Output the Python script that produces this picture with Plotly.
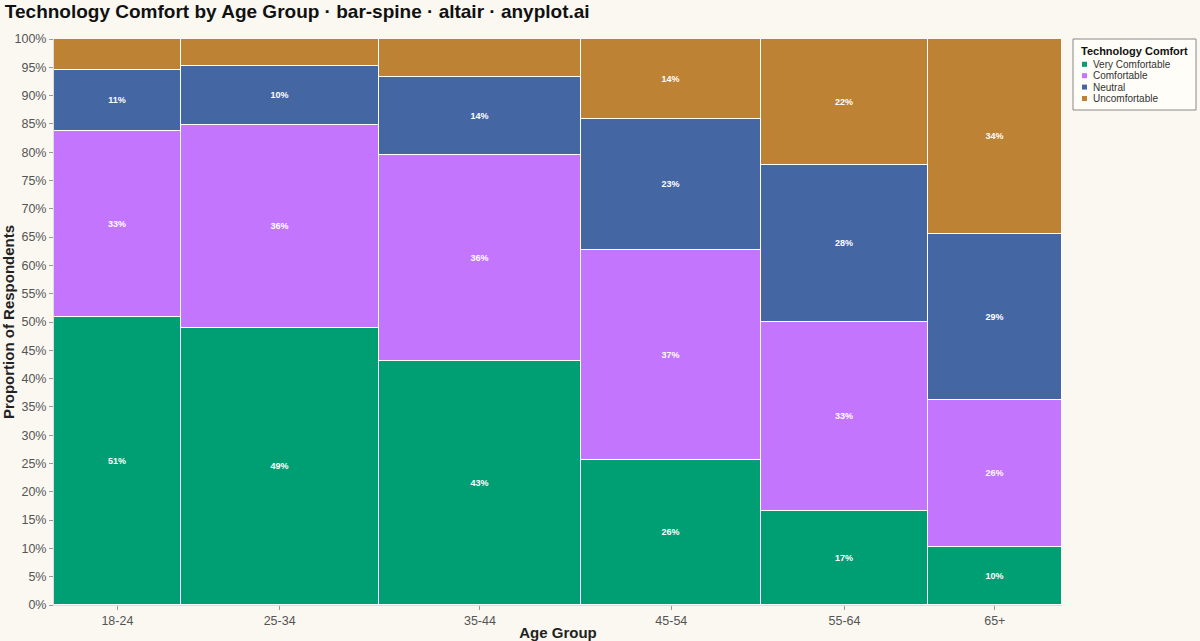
import plotly.graph_objects as go

# 各年龄段受访人数 (决定柱宽)
age_groups = ["18-24", "25-34", "35-44", "45-54", "55-64", "65+"]
respondents = [250, 390, 400, 355, 328, 265]

# 各舒适度占比 (%)
comfort_levels = ["Very Comfortable", "Comfortable", "Neutral", "Uncomfortable"]
very_comfortable = [50.9, 48.9, 43.1, 25.6, 16.6, 10.2]
comfortable = [32.9, 35.9, 36.4, 37.1, 33.4, 26.0]
neutral = [10.8, 10.4, 13.8, 23.2, 27.7, 29.4]
uncomfortable = [5.4, 4.8, 6.7, 14.1, 22.3, 34.4]

colors = ["#009E73", "#C475FD", "#4467A3", "#BD8233"]
bg = "#FAF8F1"

# 绘图区像素尺寸, 用于把图例放到右侧
PLOT_W, PLOT_H = 1008, 566


def px_x(px):
    return (px - 54) / PLOT_W


def px_y(py):
    return (605 - py) / PLOT_H


def add_legend(fig):
    # 手动绘制图例框 (plotly 自带图例太宽)
    fig.add_shape(type="rect", xref="paper", yref="paper",
                  x0=px_x(1073), x1=px_x(1196), y0=px_y(110), y1=px_y(39),
                  line=dict(color="#888", width=1), fillcolor="#FFFDF7")
    fig.add_annotation(text="<b>Technology Comfort</b>", xref="paper", yref="paper",
                       x=px_x(1080), y=px_y(50.5), xanchor="left", yanchor="middle",
                       showarrow=False, borderpad=0, font=dict(size=11, color="#111"))
    for i, (name, color) in enumerate(zip(comfort_levels, colors)):
        cy = 64.3 + i * 11.4
        fig.add_shape(type="rect", xref="paper", yref="paper",
                      x0=px_x(1082), x1=px_x(1087), y0=px_y(cy + 2.5), y1=px_y(cy - 2.5),
                      line=dict(width=0), fillcolor=color)
        fig.add_annotation(text=name, xref="paper", yref="paper",
                           x=px_x(1092), y=px_y(cy), xanchor="left", yanchor="middle",
                           showarrow=False, borderpad=0, font=dict(size=10, color="#333"))


def create_spine_chart():
    # 计算每个柱子的中心位置
    centers = []
    start = 0
    for n in respondents:
        centers.append(start + n / 2)
        start += n
    total = start

    fig = go.Figure()
    series = [very_comfortable, comfortable, neutral, uncomfortable]
    for name, vals, color in zip(comfort_levels, series, colors):
        labels = [f"{v:.0f}%" if v >= 8 else "" for v in vals]
        fig.add_trace(go.Bar(
            x=centers,
            y=[v / 100 for v in vals],
            width=respondents,
            name=name,
            marker=dict(color=color, line=dict(color="white", width=1)),
            text=labels,
            textposition="inside",
            insidetextanchor="middle",
            textangle=0,
            textfont=dict(color="white", size=9, family="Liberation Sans", weight="bold"),
            showlegend=False,
        ))

    fig.update_layout(
        barmode="stack",
        title=dict(
            text="<b>Technology Comfort by Age Group · bar-spine · altair · anyplot.ai</b>",
            x=0.004, xanchor="left", y=0.982, yanchor="middle",
            font=dict(size=19, family="Liberation Sans", color="#111"),
        ),
        xaxis=dict(
            range=[0, total],
            tickvals=centers,
            ticktext=age_groups,
            title=dict(text="<b>Age Group</b>", font=dict(size=15, color="#222"), standoff=1),
            showgrid=False, zeroline=False, automargin=False,
            showline=True, linecolor="#dddddd",
            ticks="outside", ticklen=4, tickcolor="#999",
            tickfont=dict(size=12.5, color="#555"),
        ),
        yaxis=dict(
            range=[0, 1],
            dtick=0.05,
            tickformat=".0%",
            title=dict(text="<b>Proportion of Respondents</b>", font=dict(size=15, color="#222"), standoff=4),
            showgrid=False, zeroline=False, automargin=False,
            showline=True, linecolor="#dddddd",
            ticks="outside", ticklen=4, tickcolor="#999",
            tickfont=dict(size=12.5, color="#555"),
        ),
        showlegend=False,
        plot_bgcolor=bg,
        paper_bgcolor=bg,
        font=dict(family="Liberation Sans"),
        margin=dict(l=54, r=138, t=39, b=36, autoexpand=False),
        width=1200,
        height=641,
        bargap=0,
    )
    add_legend(fig)
    return fig


fig = create_spine_chart()
fig.write_html("out.html", config={"displayModeBar": False},
               post_script="document.body.style.margin='0';")
